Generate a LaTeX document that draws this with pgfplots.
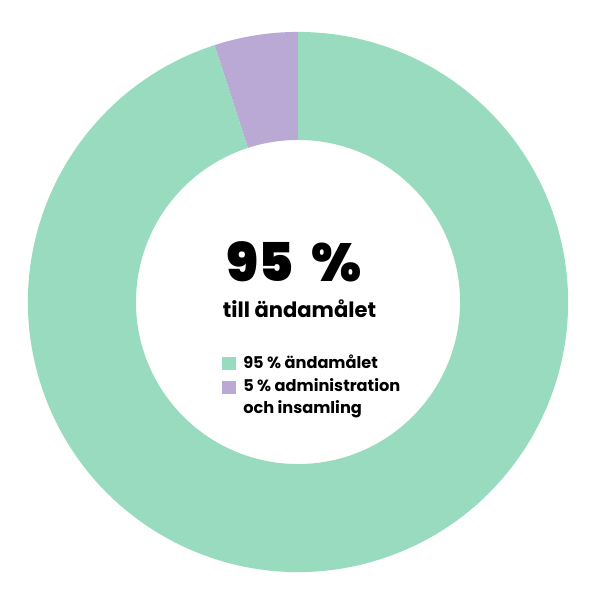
\documentclass[border=0pt]{standalone}
\usepackage{fontspec}
\setmainfont{Poppins}
\newfontfamily\heavy{Poppins}[UprightFont=* Black]
\usepackage{pgfplots}
\usepackage{pgfplotstable}
\pgfplotsset{compat=1.18}
\definecolor{ringgreen}{HTML}{99DBBE}
\definecolor{ringpurple}{HTML}{B9A9D4}

% share of the gifts, percent
\pgfplotstableread{
part value
andamal 95
admin 5
}\shares
\pgfplotstablegetelem{0}{value}\of\shares \let\vMain\pgfplotsretval
\pgfplotstablegetelem{1}{value}\of\shares \let\vAdmin\pgfplotsretval
\pgfmathsetmacro{\aSplit}{90+3.6*\vAdmin}
\pgfmathsetmacro{\aEnd}{\aSplit+3.6*\vMain}

\begin{document}
\begin{tikzpicture}
\begin{axis}[
  x=0.025cm, y=0.025cm,
  xmin=0, xmax=600, ymin=0, ymax=600,
  hide axis, clip=false,
]
\coordinate (bl) at (axis cs:0,0);
\coordinate (tr) at (axis cs:600,600);
% purple slice, from the top counter-clockwise
\fill[ringpurple] (axis cs:298,298) ++(90:6.75cm)
  arc[start angle=90, end angle=\aSplit, radius=6.75cm]
  -- ++(\aSplit+180:2.7cm)
  arc[start angle=\aSplit, end angle=90, radius=4.05cm] -- cycle;
% green slice
\fill[ringgreen] (axis cs:298,298) ++(\aSplit:6.75cm)
  arc[start angle=\aSplit, end angle=\aEnd, radius=6.75cm]
  -- ++(\aEnd+180:2.7cm)
  arc[start angle=\aEnd, end angle=\aSplit, radius=4.05cm] -- cycle;

\node[anchor=base, inner sep=0pt, font=\fontsize{38}{40}\selectfont\heavy]
  at (axis cs:294,318) {95\hspace{13pt}\%};
\node[anchor=base, inner sep=0pt, font=\fontsize{15}{18}\selectfont\bfseries]
  at (axis cs:299.5,282) {till ändamålet};

\fill[ringgreen] (axis cs:222,230) rectangle (axis cs:236,243);
\fill[ringpurple] (axis cs:222,206) rectangle (axis cs:236,219);
\begin{scope}[every node/.style={anchor=base west, inner sep=0pt,
    font=\fontsize{11.5}{14}\selectfont\bfseries}]
\node at (axis cs:243,231) {95 \% ändamålet};
\node at (axis cs:243,209) {5 \% administration};
\node at (axis cs:243,187) {och insamling};
\end{scope}
\end{axis}
\pgfresetboundingbox
\useasboundingbox (bl) rectangle (tr);
\end{tikzpicture}
\end{document}
